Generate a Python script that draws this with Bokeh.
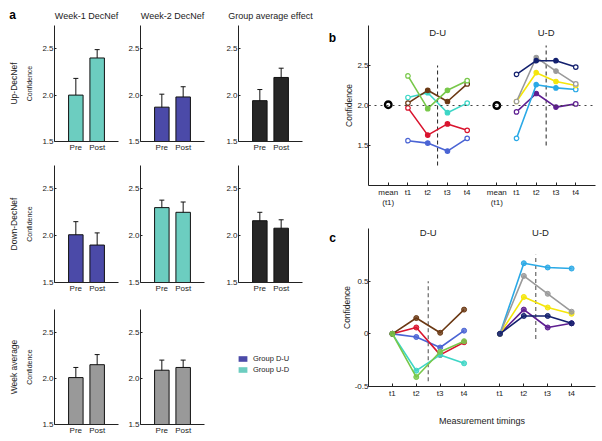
from bokeh.plotting import figure
from bokeh.layouts import row, column
from bokeh.models import (ColumnDataSource, FactorRange, Range1d, Whisker, TeeHead,
                          FixedTicker, Title, Legend, LegendItem, Span,
                          PrintfTickFormatter)
from bokeh.core.properties import value
from bokeh.embed import file_html
from bokeh.resources import INLINE

FONT = "Liberation Sans"
INK = "#222222"

# ---------------- panel a data ----------------
conditions = ["Pre", "Post"]
col_titles = ["Week-1 DecNef", "Week-2 DecNef", "Group average effect"]
row_titles = ["Up-DecNef", "Down-DecNef", "Week average"]
legend_labels = ["Group D-U", "Group U-D"]
panel_letters = ["a", "b", "c"]

up_week1 = [2.00, 2.40]
up_week1_lo = [1.83, 2.32]
up_week1_hi = [2.18, 2.49]
up_week2 = [1.87, 1.98]
up_week2_lo = [1.73, 1.87]
up_week2_hi = [2.01, 2.09]
up_group = [1.94, 2.19]
up_group_lo = [1.82, 2.09]
up_group_hi = [2.06, 2.29]
down_week1 = [2.01, 1.90]
down_week1_lo = [1.87, 1.77]
down_week1_hi = [2.15, 2.03]
down_week2 = [2.30, 2.25]
down_week2_lo = [2.22, 2.14]
down_week2_hi = [2.38, 2.36]
down_group = [2.16, 2.08]
down_group_lo = [2.06, 1.98]
down_group_hi = [2.25, 2.17]
avg_week1 = [2.01, 2.15]
avg_week1_lo = [1.90, 2.05]
avg_week1_hi = [2.12, 2.26]
avg_week2 = [2.09, 2.12]
avg_week2_lo = [1.99, 2.03]
avg_week2_hi = [2.20, 2.20]

# ---------------- panels b, c data ----------------
groups = ["D-U", "U-D"]
b_timings = ["mean\n(t1)", "t1", "t2", "t3", "t4"]
c_timings = ["t1", "t2", "t3", "t4"]
b_mean_t1 = [2.01, 2.00]

b_du_blue = [1.56, 1.53, 1.43, 1.59]
b_du_red = [1.97, 1.63, 1.77, 1.69]
b_du_cyan = [2.10, 2.16, 1.91, 2.03]
b_du_brown = [2.03, 2.19, 2.05, 2.27]
b_du_green = [2.37, 1.96, 2.19, 2.31]
b_ud_navy = [2.39, 2.56, 2.56, 2.48]
b_ud_gray = [2.05, 2.60, 2.43, 2.27]
b_ud_yellow = [2.05, 2.41, 2.30, 2.25]
b_ud_lightblue = [1.59, 2.26, 2.22, 2.20]
b_ud_purple = [1.92, 2.15, 1.98, 2.02]

c_du_blue = [0.0, -0.03, -0.13, 0.03]
c_du_red = [0.0, 0.06, -0.20, -0.08]
c_du_cyan = [0.0, -0.35, -0.20, -0.28]
c_du_brown = [0.0, 0.15, 0.01, 0.23]
c_du_green = [0.0, -0.41, -0.17, -0.07]
c_ud_navy = [0.0, 0.17, 0.17, 0.10]
c_ud_gray = [0.0, 0.55, 0.38, 0.21]
c_ud_yellow = [0.0, 0.35, 0.25, 0.19]
c_ud_lightblue = [0.0, 0.67, 0.63, 0.62]
c_ud_purple = [0.0, 0.23, 0.06, 0.10]

# dashed dividers (between t2 and t3): vertical extents per group
b_divider_lo = [1.25, 1.5]
b_divider_hi = [2.5, 2.75]
c_divider_lo = [-0.45, -0.05]
c_divider_hi = [0.5, 0.75]

# ---------------- styles ----------------
C_DU = "#4b4aa8"
C_UD = "#6ccdc0"
C_GROUP = "#262626"
C_AVG = "#999999"
COLS = dict(blue="#4a64d4", red="#d9142e", cyan="#3dd6c6", brown="#6b3914",
            green="#78c84a", navy="#13206e", gray="#9a9a9a", yellow="#f5e60a",
            lightblue="#2aa9e6", purple="#5e1f91")


def blank_fig(w, h):
    p = figure(width=w, height=h, title=None, x_range=Range1d(0, w),
               y_range=Range1d(h, 0), x_axis_location=None, y_axis_location=None,
               toolbar_location=None, output_backend="svg", min_border=0,
               min_border_left=0, min_border_right=0, min_border_top=0,
               min_border_bottom=0)
    p.grid.visible = False
    p.outline_line_color = None
    return p


def style(p, fs):
    p.grid.visible = False
    p.outline_line_color = None
    for ax in p.axis:
        ax.axis_line_color = INK
        ax.axis_line_width = 1
        ax.major_tick_line_color = INK
        ax.major_tick_in = 2
        ax.major_tick_out = 0
        ax.minor_tick_line_color = None
        ax.major_label_text_font = FONT
        ax.major_label_text_font_size = fs
        ax.major_label_text_color = INK
        ax.major_label_standoff = 1
        ax.axis_label_text_font = FONT
        ax.axis_label_text_font_style = "normal"
        ax.axis_label_text_color = INK


def bar_fig(means, lo, hi, color, width, height, bl, br, bt, bb,
            rlabel=None, ylabel=None):
    p = figure(width=width, height=height, title=None,
               x_range=FactorRange(*conditions, range_padding=0.5,
                                   range_padding_units="absolute"),
               y_range=Range1d(1.5, 2.75), output_backend="svg",
               toolbar_location=None, min_border_left=bl, min_border_right=br,
               min_border_top=bt, min_border_bottom=bb)
    src = ColumnDataSource(dict(x=conditions, top=means, lo=lo, hi=hi))
    p.vbar(x="x", top="top", bottom=0, width=0.68, source=src,
           fill_color=color, line_color="#111111", line_width=1)
    p.add_layout(Whisker(source=src, base="x", upper="hi", lower="lo",
                         line_color="#111111", line_width=1,
                         upper_head=TeeHead(size=5, line_color="#111111", line_width=1),
                         lower_head=TeeHead(size=5, line_color="#111111", line_width=1)))
    p.yaxis.ticker = FixedTicker(ticks=[1.5, 2.0, 2.5])
    p.yaxis.formatter = PrintfTickFormatter(format="%.1f")
    style(p, "8px")
    p.xaxis.major_tick_line_color = None
    if ylabel:
        p.yaxis.axis_label = ylabel
        p.yaxis.axis_label_text_font_size = "7px"
        p.yaxis.axis_label_standoff = 6
    if rlabel:
        p.add_layout(Title(text=rlabel, align="center", text_font=FONT,
                           text_font_size="8.5px", text_font_style="normal",
                           text_color=INK, standoff=10), "left")
    return p


# column geometry: (width, left border, right border)
CG = [(124, 54, 6), (96, 16, 16), (96, 18, 14)]
# row geometry: (height, top border, bottom border)
RG = [(129, 0, 11), (141, 11, 12), (142, 14, 12)]
HEADER_H = 25
LEFT_W = sum(c[0] for c in CG)

a_data = [
    [(up_week1, up_week1_lo, up_week1_hi, C_UD),
     (up_week2, up_week2_lo, up_week2_hi, C_DU),
     (up_group, up_group_lo, up_group_hi, C_GROUP)],
    [(down_week1, down_week1_lo, down_week1_hi, C_DU),
     (down_week2, down_week2_lo, down_week2_hi, C_UD),
     (down_group, down_group_lo, down_group_hi, C_GROUP)],
    [(avg_week1, avg_week1_lo, avg_week1_hi, C_AVG),
     (avg_week2, avg_week2_lo, avg_week2_hi, C_AVG)],
]

# header with panel letter and column titles (screen-pixel coordinates)
header = blank_fig(LEFT_W, HEADER_H)
title_x = []
acc = 0
for w, bl, br in CG:
    title_x.append(acc + bl + (w - bl - br) / 2)
    acc += w
header.text(x=title_x, y=[15.5] * 3, text=col_titles, text_font=value(FONT),
            text_font_size="9px", text_align="center", text_baseline="alphabetic",
            text_color=INK)
header.text(x=[12], y=[14.5], text=[panel_letters[0]], text_font=value(FONT),
            text_font_size="12px", text_font_style="bold", text_align="center",
            text_baseline="alphabetic", text_color="black")

rows = [header]
for ri, rdata in enumerate(a_data):
    figs = []
    h, bt, bb = RG[ri]
    for ci, (m, lo, hi, col) in enumerate(rdata):
        w, bl, br = CG[ci]
        f = bar_fig(m, lo, hi, col, w, h, bl, br, bt, bb,
                    rlabel=row_titles[ri] if ci == 0 else None,
                    ylabel="Confidence" if ci == 0 else None)
        figs.append(f)
    if ri == 2:
        w, bl, br = CG[2]
        fl = figure(width=w, height=h, title=None, output_backend="svg",
                    toolbar_location=None, x_axis_location=None,
                    y_axis_location=None, min_border_left=bl,
                    min_border_right=br, min_border_top=bt, min_border_bottom=bb,
                    x_range=Range1d(0, 1), y_range=Range1d(0, 1))
        fl.grid.visible = False
        fl.outline_line_color = None
        # legend swatch renderers (zero-size, off-range: only their legend glyph shows)
        r1 = fl.vbar(x=[0.5], top=[-1], bottom=[-1], width=0, fill_color=C_DU,
                     line_color=None)
        r2 = fl.vbar(x=[0.5], top=[-1], bottom=[-1], width=0, fill_color=C_UD,
                     line_color=None)
        leg = Legend(items=[LegendItem(label=legend_labels[0], renderers=[r1]),
                            LegendItem(label=legend_labels[1], renderers=[r2])],
                     location=(-1, 50), padding=0, margin=0, spacing=2,
                     glyph_width=11, glyph_height=7, label_height=9,
                     label_standoff=5, label_text_font=FONT,
                     label_text_font_size="7.5px", label_text_color=INK,
                     border_line_color=None, background_fill_alpha=0)
        fl.add_layout(leg)
        figs.append(fl)
    rows.append(row(*figs))

left = column(*rows)

# ---------------- panels b and c ----------------
STRIP_W = 20
RIGHT_W = 264


def line_fig(factors, y_range, height, bt, bb, ticks):
    p = figure(width=RIGHT_W, height=height, title=None,
               x_range=FactorRange(*factors, factor_padding=0, group_padding=0.5,
                                   range_padding=0.5, range_padding_units="absolute"),
               y_range=y_range, output_backend="svg", toolbar_location=None,
               min_border_left=32, min_border_right=5, min_border_top=bt,
               min_border_bottom=bb)
    style(p, "8px")
    p.yaxis.ticker = FixedTicker(ticks=ticks)
    p.yaxis.formatter = PrintfTickFormatter(format="%.1f")
    p.yaxis.major_label_standoff = 0
    p.yaxis.axis_label = "Confidence"
    p.yaxis.axis_label_text_font_size = "8.5px"
    p.yaxis.axis_label_standoff = 0
    p.xaxis.group_text_font_size = "1px"
    p.xaxis.group_text_alpha = 0
    p.xaxis.separator_line_color = None
    p.xaxis.major_tick_in = 3
    p.xaxis.major_label_standoff = 2
    return p


b_factors = [(g, t) for g in groups for t in b_timings]
pb = line_fig(b_factors, Range1d(1.0, 3.0), 210, 25, 25, [1.5, 2.0, 2.5])
pb.add_layout(Span(location=2.0, dimension="width", line_color="#444444",
                   line_dash="dotted", line_width=1))
for gi, g in enumerate(groups):
    xd = (g, "t2", 0.5)
    pb.segment(x0=[xd], y0=[b_divider_lo[gi]], x1=[xd], y1=[b_divider_hi[gi]],
               line_color="#222222", line_dash="4 3", line_width=1)
pb.text(x=[(g, "t2", 0.5) for g in groups], y=[2.91, 2.91], text=groups,
        text_font=value(FONT), text_font_size="9.5px", text_align="center",
        text_baseline="middle", text_color=INK)

b_series = [("D-U", b_du_blue, "blue"), ("D-U", b_du_red, "red"),
            ("D-U", b_du_cyan, "cyan"), ("D-U", b_du_brown, "brown"),
            ("D-U", b_du_green, "green"),
            ("U-D", b_ud_purple, "purple"), ("U-D", b_ud_lightblue, "lightblue"),
            ("U-D", b_ud_yellow, "yellow"), ("U-D", b_ud_gray, "gray"),
            ("U-D", b_ud_navy, "navy")]
for g, vals, cname in b_series:
    c = COLS[cname]
    src = ColumnDataSource(dict(x=[(g, t) for t in b_timings[1:]], y=vals,
                                fill=["white", c, c, "white"]))
    pb.line("x", "y", source=src, line_color=c, line_width=1.6)
    pb.scatter("x", "y", source=src, size=4.5, line_color=c, fill_color="fill",
               line_width=1.2)
pb.scatter(x=[(g, b_timings[0]) for g in groups], y=b_mean_t1, size=6.5,
           line_color="black", fill_color="white", line_width=2.4)

c_factors = [(g, t) for g in groups for t in c_timings]
pc = line_fig(c_factors, Range1d(-0.5, 1.0), 226, 18, 50, [-0.5, 0, 0.5])
pc.yaxis.major_label_overrides = {0: "0"}
pc.xaxis.axis_label = "Measurement timings"
pc.xaxis.axis_label_text_font_size = "9px"
pc.xaxis.axis_label_standoff = 15
for gi, g in enumerate(groups):
    xd = (g, "t2", 0.5)
    pc.segment(x0=[xd], y0=[c_divider_lo[gi]], x1=[xd], y1=[c_divider_hi[gi]],
               line_color="#666666", line_dash="4 3", line_width=1.2)
pc.text(x=[("D-U", "t2", 0.5), ("U-D", "t2", 0.7)], y=[0.96, 0.96], text=groups,
        text_font=value(FONT), text_font_size="9.5px", text_align="center",
        text_baseline="middle", text_color=INK)

c_series = [("D-U", c_du_blue, "blue"), ("D-U", c_du_red, "red"),
            ("D-U", c_du_cyan, "cyan"), ("D-U", c_du_brown, "brown"),
            ("D-U", c_du_green, "green"),
            ("U-D", c_ud_purple, "purple"), ("U-D", c_ud_lightblue, "lightblue"),
            ("U-D", c_ud_yellow, "yellow"), ("U-D", c_ud_gray, "gray"),
            ("U-D", c_ud_navy, "navy")]
for g, vals, cname in c_series:
    c = COLS[cname]
    src = ColumnDataSource(dict(x=[(g, t) for t in c_timings], y=vals))
    pc.line("x", "y", source=src, line_color=c, line_width=1.6)
    pc.scatter("x", "y", source=src, size=5, line_color=c, fill_color=c,
               fill_alpha=0.8, line_width=1)

# strip holding the panel letters b and c (screen-pixel coordinates)
strip = blank_fig(STRIP_W, 210 + 226)
strip.text(x=[16, 16], y=[37, 237], text=panel_letters[1:], text_font=value(FONT),
           text_font_size="12px", text_font_style="bold", text_align="center",
           text_baseline="alphabetic", text_color="black")

right = row(strip, column(pb, pc))
layout = row(left, right)

with open("out.html", "w") as fh:
    fh.write(file_html(layout, INLINE, title="DecNef confidence"))
